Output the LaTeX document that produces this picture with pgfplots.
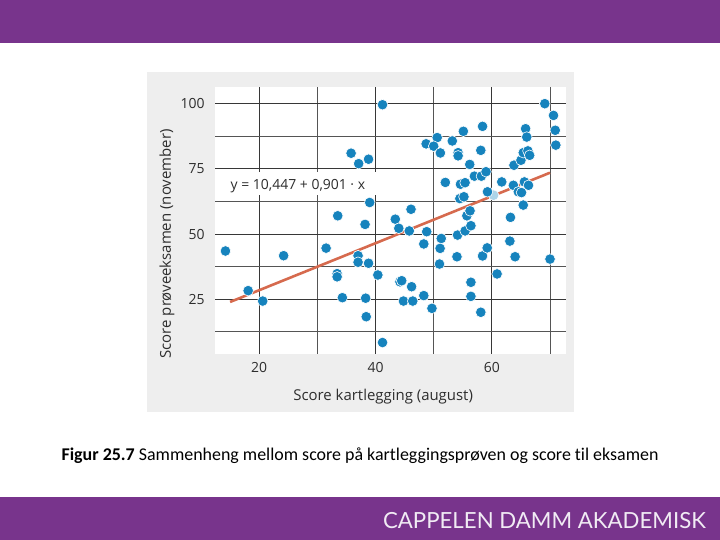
\documentclass[border=0pt]{standalone}
\usepackage{fontspec}
\usepackage{pgfplots}
\usepackage{pgfplotstable}
\pgfplotsset{compat=1.18}
\newfontfamily\chartfont{Open Sans}
\newfontfamily\capfont[Ligatures=NoCommon]{Carlito}
\newfontfamily\logofont{Lato}
\definecolor{slidepurple}{RGB}{120,52,140}
\definecolor{panelgrey}{RGB}{238,238,238}
\definecolor{dotblue}{RGB}{22,131,189}
\definecolor{fitred}{RGB}{214,106,78}
\definecolor{gridgrey}{RGB}{55,55,55}
\definecolor{labelgrey}{RGB}{45,45,45}

% score in August (x) against score in November (y)
\pgfplotstableread{
x y
14.2 43.5
18.1 28.3
20.6 24.3
24.2 41.7
31.5 44.6
33.5 57.0
33.4 34.8
33.4 33.6
34.3 25.6
35.8 81.0
37.1 77.0
38.8 78.7
39.0 62.1
38.2 53.7
37.0 41.7
37.0 39.2
38.8 38.8
40.4 34.3
38.3 25.4
38.4 18.3
41.2 8.4
41.2 99.6
43.4 55.7
44.0 52.2
45.8 51.2
46.1 59.5
44.2 31.7
44.5 32.1
46.2 29.8
44.8 24.3
46.4 24.3
48.3 26.4
49.7 21.5
48.3 46.2
48.8 50.9
51.3 48.3
51.1 44.5
51.0 38.5
52.0 69.8
54.0 41.3
54.1 49.6
55.4 51.2
55.7 57.0
56.25 58.9
56.4 53.2
56.4 31.5
56.4 26.1
58.1 20.0
58.4 41.6
59.2 44.7
60.9 34.7
63.1 47.3
64.0 41.3
70.0 40.4
63.2 56.4
65.4 61.1
59.25 66.2
61.7 70.0
63.7 68.7
65.6 70.0
66.3 68.7
64.55 66.2
65.1 65.9
63.8 76.4
65.0 78.3
65.4 81.2
66.2 81.9
66.5 80.2
65.8 90.4
66.0 87.2
69.1 100.0
70.6 95.5
70.9 89.8
71.0 84.1
50.6 87.0
53.2 85.7
48.7 84.6
50.0 83.7
51.15 81.1
54.2 81.2
54.2 80.0
55.1 89.4
58.4 91.3
58.1 82.1
56.2 76.7
57.0 72.2
58.2 72.2
59.0 73.9
54.6 69.1
55.4 69.7
54.5 63.6
55.2 64.3
}\scores

\begin{document}
\begin{tikzpicture}[x=1bp,y=1bp]
\fill[white] (0,0) rectangle (720,540);
\useasboundingbox (0,0) rectangle (720,540);
% slide banners
\fill[slidepurple] (0,497) rectangle (720,540);
\fill[slidepurple] (0,0) rectangle (720,43);
\node[text=white!90!slidepurple, font=\logofont\fontsize{22.3}{24}\selectfont] at (544.5,19) {CAPPELEN DAMM AKADEMISK};
% grey panel behind the chart
\fill[panelgrey] (147,128) rectangle (574,468);
\node[font=\capfont\fontsize{18}{21}\selectfont, text=black] at (360,84)
  {\textbf{Figur 25.7} Sammenheng mellom score på kartleggingsprøven og score til eksamen};

\begin{axis}[
  at={(215bp,186bp)}, anchor=south west,
  scale only axis, width=351bp, height=267bp,
  xmin=12.4, xmax=72.75, ymin=4, ymax=106.4,
  axis background/.style={fill=white},
  xtick={20,40,60}, minor xtick={30,50,70},
  ytick={25,50,75,100}, minor ytick={12.5,37.5,62.5,87.5},
  grid=both,
  major grid style={gridgrey, line width=1bp},
  minor grid style={gridgrey!85, line width=1bp},
  axis line style={draw=none},
  major tick length=0pt, minor tick length=0pt,
  /pgf/number format/assume math mode=true,
  tick label style={font=\chartfont\fontsize{14}{16}\selectfont, text=labelgrey},
  xticklabel style={yshift=-5bp},
  yticklabel style={xshift=-7bp},
  xlabel={Score kartlegging (august)},
  ylabel={Score prøveeksamen (november)},
  label style={font=\chartfont\fontsize{15}{18}\selectfont, text=labelgrey},
  xlabel style={at={(axis description cs:0.479,-0.161)}, anchor=center},
  ylabel style={at={(axis description cs:-0.137,0.412)}, anchor=center},
]
\fill[white] (axis cs:12.4,65) rectangle (axis cs:40.3,73.8);
\node[anchor=west, font=\chartfont\fontsize{14}{16}\selectfont, text=labelgrey]
  at (axis cs:14.5,68.2) {y = 10,447 + 0,901 · x};
\addplot[only marks, mark=*, mark size=5.3bp,
  mark options={fill=dotblue!35, draw=white, line width=0.6bp}]
  coordinates {(60.3,64.9)};
\addplot[fitred, line width=2.6bp, no marks] coordinates {(15,23.96) (70,73.52)};
\addplot[only marks, mark=*, mark size=5.3bp,
  mark options={fill=dotblue, draw=white, line width=0.6bp}] table {\scores};
\end{axis}
\end{tikzpicture}
\end{document}
